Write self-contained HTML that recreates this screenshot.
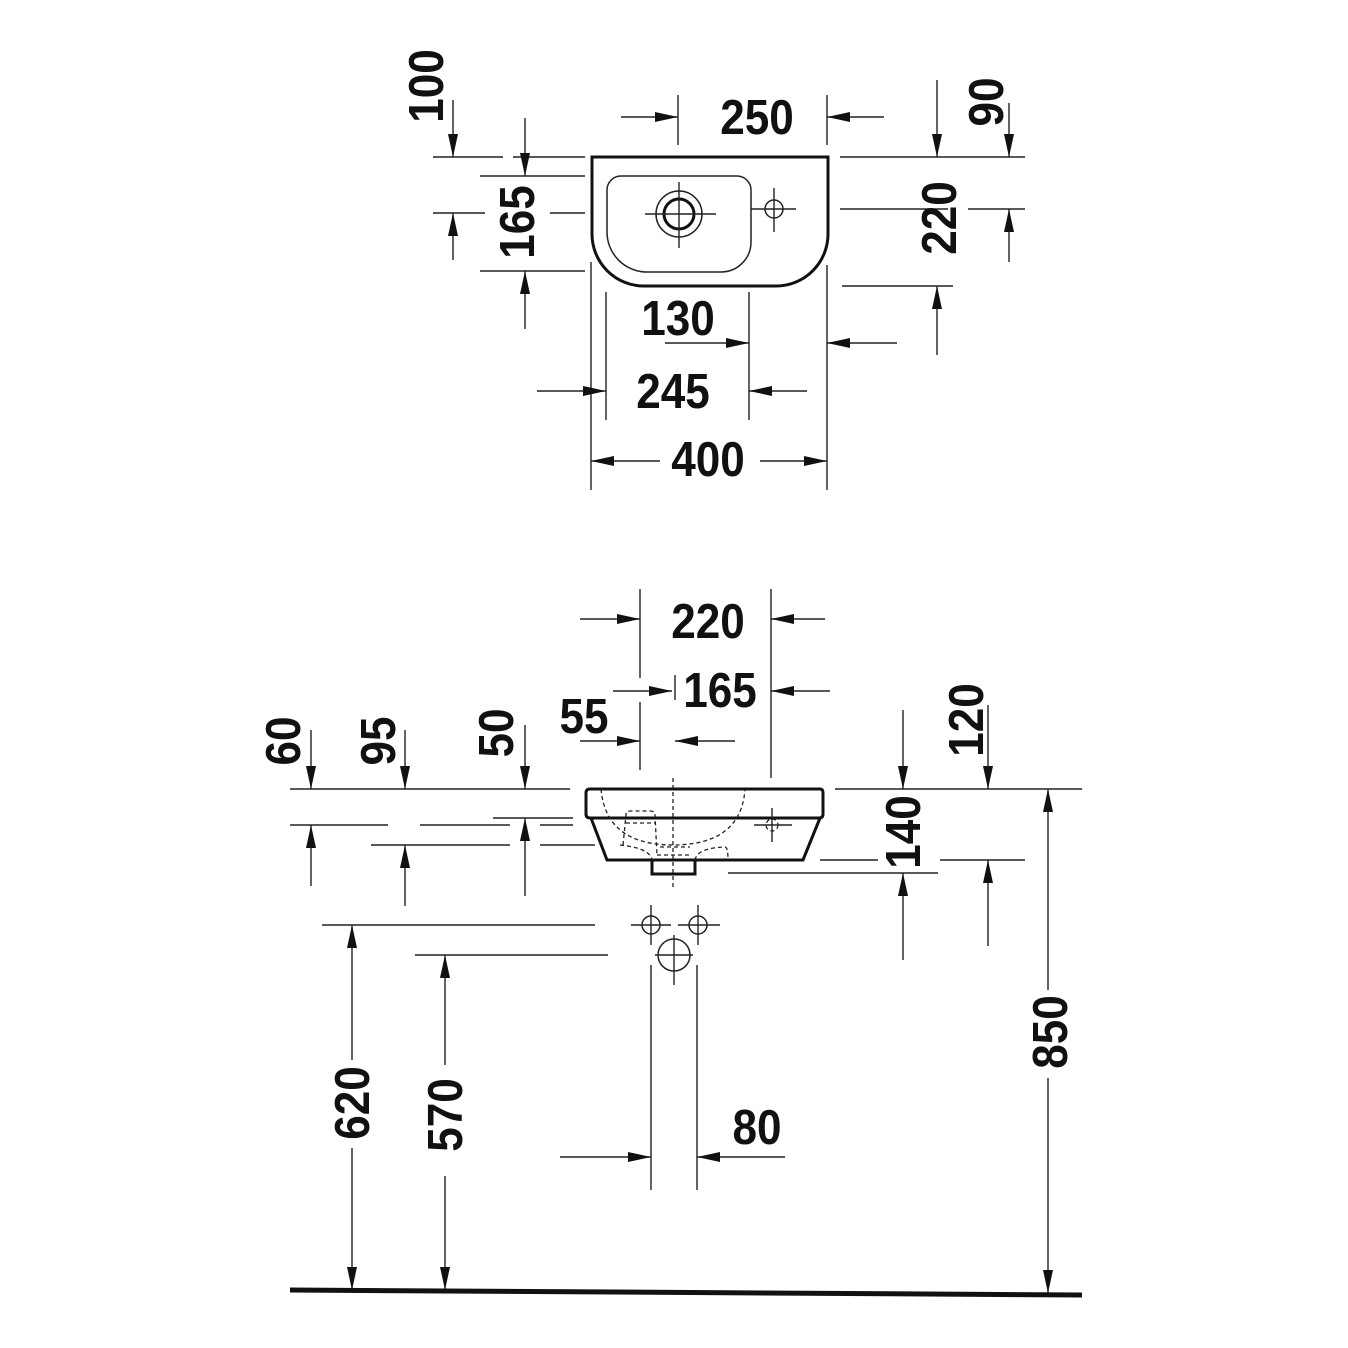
<!DOCTYPE html>
<html><head><meta charset="utf-8"><style>
html,body{margin:0;padding:0;background:#fff}
svg{display:block}
text{font-family:"Liberation Sans",sans-serif;font-weight:bold;font-size:49px;fill:#111;text-anchor:middle;dominant-baseline:central}
.l{stroke:#222;stroke-width:1.4;fill:none}
.o{stroke:#111;stroke-width:3;fill:none}
.t{stroke:#222;stroke-width:1.5;fill:none}
.d{stroke:#222;stroke-width:1.3;fill:none;stroke-dasharray:4 3}
</style></head><body>
<svg width="1348" height="1348" viewBox="0 0 1348 1348" xmlns="http://www.w3.org/2000/svg">
<defs>
<marker id="a" markerUnits="userSpaceOnUse" markerWidth="24" markerHeight="12" refX="23" refY="5" orient="auto">
<path d="M0,0 L23,5 L0,10 Z" fill="#111"/></marker>
</defs>

<!-- ========== TOP VIEW ========== -->
<path class="o" d="M592,157 H828 V234 A52,52 0 0 1 776,286 H644 A52,52 0 0 1 592,234 Z"/>
<path class="t" d="M621,176 H737 A14,14 0 0 1 751,190 V242 A30,30 0 0 1 721,272 H647 A40,40 0 0 1 607,232 V190 A14,14 0 0 1 621,176 Z"/>
<circle class="t" cx="679" cy="214" r="23"/>
<circle cx="679" cy="214" r="15" fill="none" stroke="#111" stroke-width="3"/>
<path class="l" d="M645,214 H716 M679,182 V248"/>
<circle class="t" cx="774" cy="209" r="9"/>
<path class="l" d="M751,209 H796 M774,188 V232"/>

<!-- extension lines -->
<path class="l" d="M433,157 H503 M513,157 H585 M480,176 H585 M433,213 H485 M550,213 H585 M480,271 H585
M678,95 V145 M827,95 V145 M840,157 H1025 M840,209 H948 M968,209 H1025 M842,286 H953
M606,292 V420 M749,292 V420 M591,262 V490 M827,265 V490"/>
<!-- arrows -->
<path class="l" marker-end="url(#a)" d="M453,100 V157"/>
<path class="l" marker-end="url(#a)" d="M525,118 V176"/>
<path class="l" marker-end="url(#a)" d="M525,329 V271"/>
<path class="l" marker-end="url(#a)" d="M453,260 V213"/>
<path class="l" marker-end="url(#a)" d="M621,117 H678"/>
<path class="l" marker-end="url(#a)" d="M884,117 H827"/>
<path class="l" marker-end="url(#a)" d="M937,80 V157"/>
<path class="l" marker-end="url(#a)" d="M1009,103 V157"/>
<path class="l" marker-end="url(#a)" d="M1009,262 V209"/>
<path class="l" marker-end="url(#a)" d="M937,355 V286"/>
<path class="l" marker-end="url(#a)" d="M665,343 H749"/>
<path class="l" marker-end="url(#a)" d="M897,343 H827"/>
<path class="l" marker-end="url(#a)" d="M537,391 H606"/>
<path class="l" marker-end="url(#a)" d="M807,391 H749"/>
<path class="l" marker-end="url(#a)" d="M660,461 H591"/>
<path class="l" marker-end="url(#a)" d="M760,461 H827"/>

<text transform="translate(757,117) scale(0.9,1)">250</text>
<text transform="translate(678,318) scale(0.9,1)">130</text>
<text transform="translate(673,391) scale(0.9,1)">245</text>
<text transform="translate(708,459) scale(0.9,1)">400</text>
<text transform="translate(426,86) rotate(-90) scale(0.9,1)">100</text>
<text transform="translate(517,222) rotate(-90) scale(0.9,1)">165</text>
<text transform="translate(986,102) rotate(-90) scale(0.9,1)">90</text>
<text transform="translate(939,218) rotate(-90) scale(0.9,1)">220</text>

<!-- ========== SIDE VIEW ========== -->
<path class="o" d="M590,789 H820 Q823,789 823,793 V814 Q823,818 819,818 H590 Q586,818 586,814 V793 Q586,789 590,789 Z"/>
<path class="o" d="M591,818 L607,860 H803 L820,818"/>
<path class="o" d="M652,860 V874 H695 V860"/>
<path class="d" d="M601,789 C605,835 640,845 673,845 C706,845 742,835 745,789"/>
<path class="d" d="M623,845 L626,815 Q626,811 630,811 H650 Q655,811 655,815 L657,855 M626,823 H656"/>
<path class="d" d="M620,845 Q650,848 652,860 M695,860 Q697,848 725,847 Q728,847 728,860 M657,855 H690 M660,847 H690"/>
<circle class="d" cx="772" cy="825" r="6"/>
<path class="l" d="M754,825 H792 M772,808 V842"/>
<path class="d" d="M673,778 V890"/>

<!-- holes -->
<circle class="t" cx="651" cy="925" r="9"/>
<circle class="t" cx="698" cy="925" r="9"/>
<circle class="t" cx="674" cy="955" r="16"/>
<path class="l" d="M631,925 H671 M651,905 V945 M678,925 H720 M698,905 V945 M651,965 V1190 M697,965 V1190 M655,955 H693 M674,935 V985"/>

<!-- extension lines -->
<path class="l" d="M640,589 V678 M640,702 V770 M771,589 V778 M675,675 V700
M290,789 H570 M835,789 H1082 M290,825 H388 M420,825 H510 M540,825 H573
M371,845 H510 M540,845 H595 M493,818 H573 M820,860 H878 M940,860 H1025 M728,873 H938
M322,925 H595 M415,955 H608"/>
<!-- arrows -->
<path class="l" marker-end="url(#a)" d="M580,619 H640"/>
<path class="l" marker-end="url(#a)" d="M825,619 H771"/>
<path class="l" marker-end="url(#a)" d="M613,691 H672"/>
<path class="l" marker-end="url(#a)" d="M830,691 H771"/>
<path class="l" marker-end="url(#a)" d="M580,741 H640"/>
<path class="l" marker-end="url(#a)" d="M735,741 H675"/>
<path class="l" marker-end="url(#a)" d="M311,730 V789"/>
<path class="l" marker-end="url(#a)" d="M311,886 V825"/>
<path class="l" marker-end="url(#a)" d="M405,730 V789"/>
<path class="l" marker-end="url(#a)" d="M405,906 V845"/>
<path class="l" marker-end="url(#a)" d="M525,725 V789"/>
<path class="l" marker-end="url(#a)" d="M525,896 V818"/>
<path class="l" marker-end="url(#a)" d="M988,705 V789"/>
<path class="l" marker-end="url(#a)" d="M988,946 V860"/>
<path class="l" marker-end="url(#a)" d="M903,710 V789"/>
<path class="l" marker-end="url(#a)" d="M903,960 V873"/>
<path class="l" marker-end="url(#a)" d="M1048,990 V789"/>
<path class="l" marker-end="url(#a)" d="M1048,1078 V1293"/>
<path class="l" marker-end="url(#a)" d="M352,1060 V925"/>
<path class="l" marker-end="url(#a)" d="M352,1148 V1290"/>
<path class="l" marker-end="url(#a)" d="M445,1065 V955"/>
<path class="l" marker-end="url(#a)" d="M445,1176 V1290"/>
<path class="l" marker-end="url(#a)" d="M560,1157 H651"/>
<path class="l" marker-end="url(#a)" d="M785,1157 H697"/>

<!-- floor -->
<path d="M290,1290 L1082,1295" stroke="#111" stroke-width="5" fill="none"/>

<text transform="translate(708,621) scale(0.9,1)">220</text>
<text transform="translate(720,690) scale(0.9,1)">165</text>
<text transform="translate(584,716) scale(0.9,1)">55</text>
<text transform="translate(757,1127) scale(0.9,1)">80</text>
<text transform="translate(283,741) rotate(-90) scale(0.9,1)">60</text>
<text transform="translate(378,741) rotate(-90) scale(0.9,1)">95</text>
<text transform="translate(496,733) rotate(-90) scale(0.9,1)">50</text>
<text transform="translate(966,720) rotate(-90) scale(0.9,1)">120</text>
<text transform="translate(903,832) rotate(-90) scale(0.9,1)">140</text>
<text transform="translate(1050,1032) rotate(-90) scale(0.9,1)">850</text>
<text transform="translate(352,1103) rotate(-90) scale(0.9,1)">620</text>
<text transform="translate(445,1115) rotate(-90) scale(0.9,1)">570</text>
</svg>
</body></html>
